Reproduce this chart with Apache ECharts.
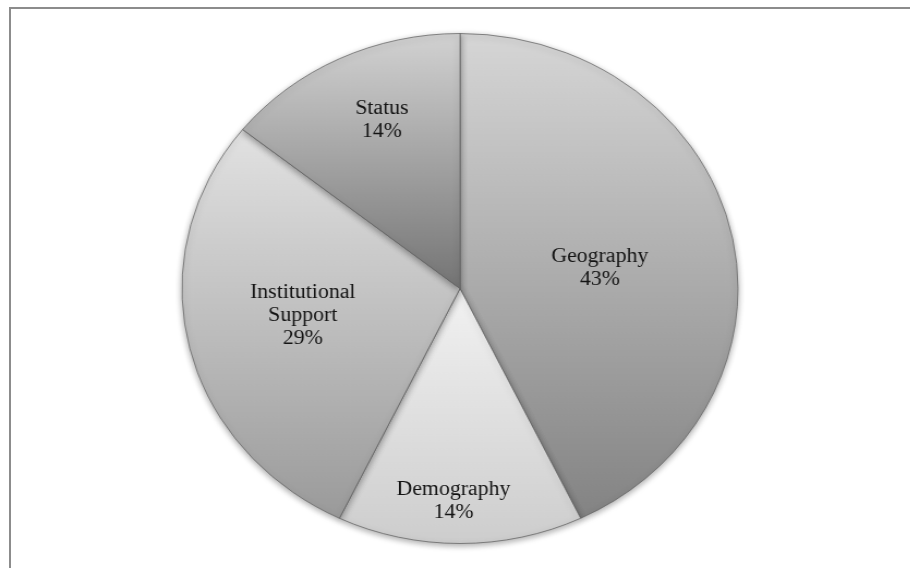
<!DOCTYPE html>
<html>
<head>
<meta charset="utf-8">
<script src="https://cdn.jsdelivr.net/npm/echarts@6/dist/echarts.min.js"></script>
<style>
  html, body { margin: 0; padding: 0; width: 910px; height: 568px; overflow: hidden; background: #ffffff; }
  #frame { position: absolute; left: 9px; top: 7px; width: 1000px; height: 700px; border: 2px solid #8c8c8c; box-sizing: border-box; }
  #chart { position: absolute; left: 0; top: 0; width: 910px; height: 568px; transform-origin: 460px 288.5px; transform: scaleX(1.0902); }
</style>
</head>
<body>
<div id="frame"></div>
<div id="chart"></div>
<script>
// Data
const categories = ['Geography', 'Demography', 'Institutional Support', 'Status'];
const values = [3, 1, 2, 1];

// Styles (per slice, same order as categories)
const gradientTop = ['#d6d6d6', '#f2f2f2', '#e2e2e2', '#d2d2d2'];
const gradientBottom = ['#838383', '#cdcdcd', '#9a9a9a', '#747474'];
const labelShift = [[1, 9], [-6, 82], [-17, -2], [-15, -51]];

const chart = echarts.init(document.getElementById('chart'), null, { renderer: 'canvas' });

const data = categories.map((name, i) => ({
  name: name,
  value: values[i],
  itemStyle: {
    color: new echarts.graphic.LinearGradient(0, 0, 0, 1, [
      { offset: 0, color: gradientTop[i] },
      { offset: 1, color: gradientBottom[i] }
    ])
  }
}));

chart.setOption({
  animation: false,
  backgroundColor: 'transparent',
  series: [{
    type: 'pie',
    center: [460, 288.5],
    radius: [0, 255],
    startAngle: 90,
    clockwise: true,
    percentPrecision: 0,
    silent: true,
    data: data,
    itemStyle: {
      borderColor: 'rgba(100,100,100,0.75)',
      borderWidth: 1,
      shadowBlur: 6,
      shadowColor: 'rgba(0,0,0,0.35)',
      shadowOffsetY: 2
    },
    label: {
      show: true,
      position: 'inside',
      color: '#141414',
      fontFamily: 'Liberation Serif',
      fontSize: 20,
      lineHeight: 23,
      align: 'center',
      formatter: function (p) {
        return p.name.replace(' ', '\n') + '\n' + p.percent + '%';
      }
    },
    labelLine: { show: false },
    labelLayout: function (params) {
      const s = labelShift[params.dataIndex];
      return { dx: s[0], dy: s[1] };
    }
  }]
});
</script>
</body>
</html>
